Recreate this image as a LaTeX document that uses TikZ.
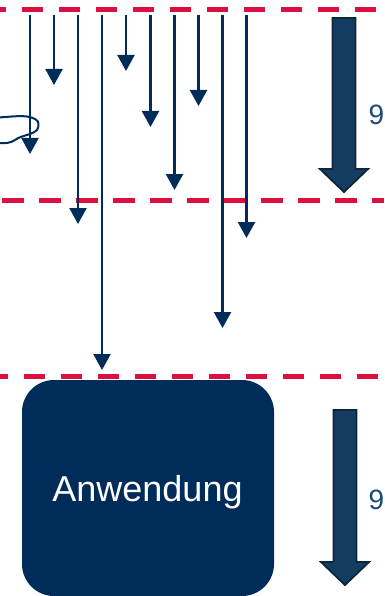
\documentclass[tikz,border=0pt]{standalone}
\usepackage{fontspec}
\setmainfont{Liberation Sans}
\usetikzlibrary{arrows.meta}
\definecolor{navy}{HTML}{002C5A}
\definecolor{crimson}{HTML}{DC0F41}
\definecolor{bigfill}{HTML}{143E61}
\definecolor{bigedge}{HTML}{0C2538}
\definecolor{numcol}{HTML}{1B4A78}
\tikzset{
  redline/.style={crimson,line width=5pt},
  thinarrow/.style={navy,line width=2.4pt,-{Triangle[width=17pt,length=16pt]}},
  bigarrow/.style={draw=bigedge,fill=bigfill,line width=1.8pt,line join=miter},
  appbox/.style={fill=navy,rounded corners=32pt,minimum width=252pt,minimum height=216pt,inner sep=0pt},
  applab/.style={text=white,inner sep=0pt,font=\fontsize{36}{40}\selectfont},
  num/.style={text=numcol,anchor=west,inner sep=0pt,font=\fontsize{28}{32}\selectfont},
  sketch/.style={navy,line width=2pt,line cap=round,line join=round}
}
\begin{document}
\begin{tikzpicture}[x=1pt,y=-1pt]
\useasboundingbox (0,0) rectangle (384,596);
\node[appbox] (app) at (148,488) {};
\node[applab] (applabel) at (147.5,492.5) {Anwendung};
% dashed lines
\draw[redline,dash pattern=on 21.3pt off 15.7pt,dash phase=15pt] (0,9.5) -- (384,9.5);
\draw[redline,dash pattern=on 21.3pt off 15.7pt,dash phase=34.7pt] (0,200) -- (384,200);
\draw[redline,dash pattern=on 21.3pt off 15.7pt,dash phase=13pt] (0,376) -- (384,376);
% thin arrows
\foreach \n/\x/\y in {a/30/154,b/54/85,c/78/224,d/102/370,e/126/71,f/150.5/127,g/174.5/190,h/198.5/106,i/222.5/328,j/246.5/238}{
  \coordinate (\n s) at (\x,15);
  \coordinate (\n e) at (\x,\y);
  \draw[thinarrow] (\n s) -- (\n e);
}
% freehand curve
\draw[sketch] (-2,117.5) .. controls (8,117) and (18,115.5) .. (27,116.5)
  .. controls (33,117.5) and (39,120) .. (38.5,124)
  .. controls (38.5,130) and (37,131) .. (30,134)
  .. controls (24,136) and (19,137) .. (15,140)
  .. controls (10,143.5) and (4,143.5) .. (-2,143);
% big arrows
\draw[bigarrow] (332.5,18) -- (355.5,18) -- (355.5,169) -- (368,169) -- (344,192) -- (320,169) -- (332.5,169) -- cycle;
\draw[bigarrow] (333.5,410) -- (356.5,410) -- (356.5,562) -- (369,562) -- (345,585) -- (321,562) -- (333.5,562) -- cycle;
\node[num] (n1) at (368.4,115) {9};
\node[num] (n2) at (368.4,500) {9};
\end{tikzpicture}
\end{document}
